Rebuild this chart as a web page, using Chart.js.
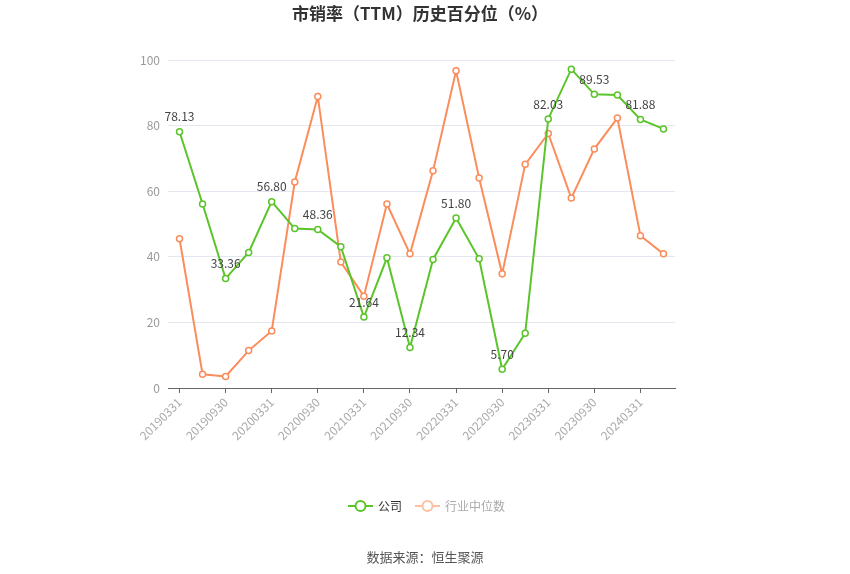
<!DOCTYPE html>
<html>
<head>
<meta charset="utf-8">
<script src="https://cdn.jsdelivr.net/npm/chart.js@4/dist/chart.umd.min.js"></script>
<style>
html,body{margin:0;padding:0;background:#fff;}
#wrap{width:850px;height:574px;position:relative;}
</style>
</head>
<body>
<div id="wrap"><canvas id="c" width="850" height="574"></canvas></div>
<script>
const categories = ["20190331","20190630","20190930","20191231","20200331","20200630","20200930","20201231","20210331","20210630","20210930","20211231","20220331","20220630","20220930","20221231","20230331","20230630","20230930","20231231","20240331","20240630"];
const companyValues = [78.13,56.1,33.36,41.3,56.80,48.6,48.36,43.1,21.64,39.7,12.34,39.2,51.80,39.4,5.70,16.7,82.03,97.2,89.53,89.3,81.88,79.0];
const industryValues = [45.5,4.2,3.5,11.4,17.4,62.8,88.9,38.4,28.0,56.1,40.9,66.2,96.7,64.0,34.8,68.2,77.6,57.9,72.9,82.3,46.4,40.9];
const labeledIndices = [0,2,4,6,8,10,12,14,16,18,20];
const yTicks = [0,20,40,60,80,100];
const titleText = "市销率（TTM）历史百分位（%）";
const sourceText = "数据来源：恒生聚源";
const seriesNames = ["公司","行业中位数"];

const FONT = '"Noto Sans CJK SC", "Noto Sans", sans-serif';
const GREEN = '#5cc42b';
const ORANGE = '#fb8d5c';

function drawLegendIcon(ctx, x, y, color){
  ctx.save();
  ctx.strokeStyle = color; ctx.lineWidth = 2;
  ctx.beginPath(); ctx.moveTo(x, y); ctx.lineTo(x + 25, y); ctx.stroke();
  ctx.beginPath(); ctx.arc(x + 12.5, y, 5, 0, Math.PI * 2);
  ctx.fillStyle = '#fff'; ctx.fill(); ctx.stroke();
  ctx.restore();
}

const extras = {
  id: 'extras',
  afterDatasetsDraw(chart){
    const ctx = chart.ctx;
    const meta = chart.getDatasetMeta(0);
    ctx.save();
    ctx.font = '12px ' + FONT;
    ctx.fillStyle = '#444';
    ctx.textAlign = 'center';
    ctx.textBaseline = 'middle';
    labeledIndices.forEach(i => {
      const p = meta.data[i];
      ctx.fillText(companyValues[i].toFixed(2), p.x, p.y - 15);
    });
    ctx.restore();
  },
  afterDraw(chart){
    const ctx = chart.ctx;
    ctx.save();
    ctx.textAlign = 'center';
    ctx.textBaseline = 'middle';
    ctx.font = 'bold 17px ' + FONT;
    ctx.fillStyle = '#333';
    ctx.fillText(titleText, 420, 14);
    ctx.font = '13px ' + FONT;
    ctx.fillStyle = '#555';
    ctx.fillText(sourceText, 425, 557);
    // legend
    ctx.textAlign = 'left';
    ctx.font = '12px ' + FONT;
    drawLegendIcon(ctx, 348, 506, GREEN);
    ctx.fillStyle = '#333';
    ctx.fillText(seriesNames[0], 378, 506);
    drawLegendIcon(ctx, 415, 506, '#ffbfa3');
    ctx.fillStyle = '#aaa';
    ctx.fillText(seriesNames[1], 445, 506);
    ctx.restore();
  }
};

new Chart(document.getElementById('c'), {
  type: 'line',
  data: {
    labels: categories,
    datasets: [
      {label: seriesNames[0], data: companyValues, borderColor: GREEN, backgroundColor: '#fff',
       borderWidth: 2, pointRadius: 3, pointBorderWidth: 1.5, pointBackgroundColor: '#fff', pointBorderColor: GREEN, tension: 0},
      {label: seriesNames[1], data: industryValues, borderColor: ORANGE, backgroundColor: '#fff',
       borderWidth: 2, pointRadius: 3, pointBorderWidth: 1.5, pointBackgroundColor: '#fff', pointBorderColor: ORANGE, tension: 0}
    ]
  },
  options: {
    responsive: false,
    animation: false,
    layout: {padding: {left: 0, right: 175, top: 60, bottom: 84}},
    plugins: {
      tooltip: {enabled: false},
      title: {display: false},
      legend: {display: false}
    },
    scales: {
      x: {
        offset: true,
        afterFit(s){ s.height = 102; },
        grid: {display: true, drawOnChartArea: false, drawTicks: true, tickLength: 5, color: '#666'},
        border: {display: true, color: '#666'},
        ticks: {
          autoSkip: false, maxRotation: 45, minRotation: 45, color: '#aaa',
          font: {size: 12, family: FONT}, padding: 2,
          callback(v, i){ return i % 2 === 0 ? categories[i] : null; }
        }
      },
      y: {
        min: 0, max: 100,
        afterFit(s){ s.width = 168; },
        afterBuildTicks(s){ s.ticks = yTicks.map(v => ({value: v})); },
        grid: {color: '#e3e7ef', drawTicks: false},
        border: {display: false},
        ticks: {color: '#999', font: {size: 12, family: FONT}, padding: 8}
      }
    }
  },
  plugins: [extras]
});
</script>
</body>
</html>
